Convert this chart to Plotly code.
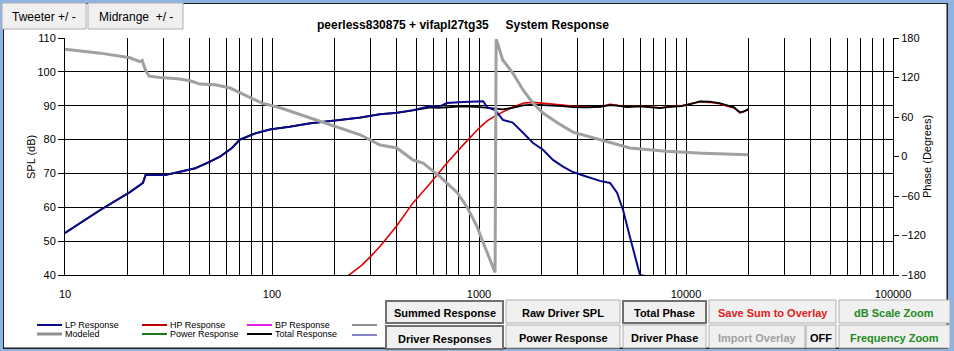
import plotly.graph_objects as go

# ---------------- data ----------------
lp_freq = [10, 14.8, 20.6, 23.8, 24.5, 30.4, 36, 42.5, 50.2, 56.2, 64, 70, 82.7, 97.8, 122, 153, 213, 267,
           333, 401, 480, 581, 634, 700, 838, 1012, 1048, 1094, 1195, 1305, 1455, 1632, 1824, 2038, 2277,
           2545, 2844, 3325, 3844, 4296, 4643, 4965, 5190, 5360, 5995, 6700]
lp_spl = [52.4, 59.2, 64.5, 67.2, 69.5, 69.5, 70.5, 71.5, 73.5, 75.0, 77.5, 80.0, 81.8, 83.0, 83.8, 84.8, 85.8, 86.5,
          87.5, 87.9, 88.7, 89.9, 89.6, 90.8, 91.1, 91.4, 91.3, 89.6, 88.7, 85.8, 85.0, 82.0, 79.0, 77.0, 74.0,
          72.0, 70.4, 69.0, 67.8, 67.2, 64.3, 59.2, 54.2, 51.2, 40.0, 39.4]

hp_freq = [230, 270, 300, 333, 400, 480, 580, 700, 850, 1012, 1100, 1222, 1455, 1650, 1824, 2038, 2277, 2545,
           2844, 3325, 3844, 4296, 4643, 5190, 5995, 6700, 7500, 8500, 9500, 10500, 11700, 13000, 14500, 16000,
           17000, 18240, 19000, 20000]
hp_spl = [39.5, 42.8, 45.5, 48.5, 54.5, 61.3, 67.0, 73.1, 78.8, 83.7, 85.6, 87.3, 89.6, 90.8, 91.0, 90.8, 90.6, 90.2,
          89.8, 89.6, 89.7, 90.4, 90.1, 89.7, 89.9, 89.6, 89.4, 89.8, 90.0, 90.6, 91.2, 91.0, 90.6, 89.8,
          89.4, 87.9, 88.2, 88.9]

total_freq = [10, 14.8, 20.6, 23.8, 24.5, 30.4, 36, 42.5, 50.2, 56.2, 64, 70, 82.7, 97.8, 122, 153, 213, 267,
              333, 401, 480, 581, 634, 700, 838, 1012, 1100, 1195, 1305, 1455, 1632, 1824, 2038, 2545, 2844, 3325,
              3844, 4296, 4643, 5190, 5995, 6700, 7500, 8500, 9500, 10500, 11700, 13000, 14500, 16000, 17000,
              18240, 19000, 20000]
total_spl = [52.4, 59.2, 64.5, 67.2, 69.5, 69.5, 70.5, 71.5, 73.5, 75.0, 77.5, 80.0, 81.8, 83.0, 83.8, 84.8, 85.8, 86.5,
             87.5, 87.9, 88.6, 89.5, 89.4, 89.6, 89.8, 89.6, 89.4, 89.2, 88.9, 89.4, 90.1, 90.3, 90.2, 89.9, 89.6, 89.5,
             89.7, 90.2, 90.0, 89.6, 89.8, 89.5, 89.3, 89.7, 89.9, 90.5, 91.3, 91.2, 90.8, 90.0, 89.6,
             88.0, 88.3, 89.0]

phase_freq = [10, 14.8, 20.6, 23.0, 23.6, 24.5, 25.5, 28.8, 35, 40.2, 44.9, 53.1, 62.8, 74.2, 89.5, 109.4, 136.7,
              190.9, 266.7, 333, 401, 480, 537, 650, 785, 876, 980, 1048, 1196, 1210, 1230, 1300, 1455, 1632,
              1824, 2038, 2400, 2844, 3400, 4296, 5360, 8000, 12000, 20000]
phase_deg = [163, 157, 150, 144, 146, 131, 122, 120, 118, 115, 110, 109, 104, 93, 81, 74, 64,
             48, 33, 17.4, 13, -5.4, -10, -31, -55, -77, -107, -131, -176, 178, 172, 147, 127, 101,
             81, 66, 51, 37, 30, 22, 13, 8, 5, 2.7]

x_tick_vals = [10, 100, 1000, 10000, 100000]
x_tick_text = ["10", "100", "1000", "10000", "100000"]
x_minor_vals = [m * d for d in (10, 100, 1000, 10000) for m in range(2, 10)]
spl_ticks = [40, 50, 60, 70, 80, 90, 100, 110]
phase_ticks = [-180, -120, -60, 0, 60, 120, 180]

# ---------------- layout geometry ----------------
W, H = 954, 351
L, R, T, B = 65, 61, 38, 76
PW, PH = W - L - R, H - T - B
FONT = "Liberation Sans, Arial, sans-serif"


def px(x):
    return (x - L) / PW


def py(y):
    return (H - B - y) / PH


fig = go.Figure()
fig.add_trace(go.Scatter(x=hp_freq, y=hp_spl, mode="lines", line=dict(color="#E00000", width=1.6),
                         name="HP Response", showlegend=False))
fig.add_trace(go.Scatter(x=total_freq, y=total_spl, mode="lines", line=dict(color="#000000", width=1.8),
                         name="Total Response", showlegend=False))
fig.add_trace(go.Scatter(x=lp_freq, y=lp_spl, mode="lines", line=dict(color="#0A0A8C", width=2),
                         name="LP Response", showlegend=False))
fig.add_trace(go.Scatter(x=phase_freq, y=phase_deg, mode="lines", yaxis="y2",
                         line=dict(color="#A0A0A0", width=3), name="Modeled", showlegend=False))

fig.update_layout(
    width=W, height=H, margin=dict(l=L, r=R, t=T, b=B),
    paper_bgcolor="white", plot_bgcolor="white",
    font=dict(family=FONT, size=11, color="black"),
    xaxis=dict(type="log", range=[1, 5], tickvals=x_tick_vals, ticktext=x_tick_text,
               showgrid=True, gridcolor="black", gridwidth=1, ticks="", zeroline=False,
               showline=True, linecolor="black", linewidth=1, mirror=False,
               tickfont=dict(size=11), ticklabelstandoff=9,
               minor=dict(tickvals=x_minor_vals, showgrid=True, gridcolor="black", gridwidth=1, ticks="")),
    yaxis=dict(range=[40, 110], tickvals=spl_ticks, showgrid=True, gridcolor="black", gridwidth=1,
               ticks="outside", ticklen=6, tickcolor="black", zeroline=False,
               showline=True, linecolor="black", linewidth=1),
    yaxis2=dict(range=[-180, 180], tickvals=phase_ticks, overlaying="y", side="right",
                showgrid=False, ticks="outside", ticklen=5, tickcolor="black", zeroline=False,
                showline=True, linecolor="black", linewidth=1),
)

shapes = []
annotations = []

# window frame
FRAME = "#8EB4E3"
DARK = "#202020"
for (x0, y0, x1, y1, c) in [(0, 0, 3, H, FRAME), (0, 0, W, 3, FRAME), (948, 0, W, H, FRAME),
                            (0, 349, W, H, FRAME), (3, 3, 4, 349, DARK), (3, 3, 948, 4, DARK),
                            (946.5, 3, 948, 349, DARK), (3, 347.5, 948, 349, DARK)]:
    shapes.append(dict(type="rect", xref="paper", yref="paper", x0=px(x0), x1=px(x1), y0=py(y1), y1=py(y0),
                       fillcolor=c, line=dict(width=0), layer="above"))


def text(x, y, s, size=11, color="black", xanchor="center", angle=0):
    annotations.append(dict(text=s, xref="paper", yref="paper", x=px(x), y=py(y), xanchor=xanchor,
                            yanchor="middle", showarrow=False, textangle=angle,
                            font=dict(size=size, color=color, family=FONT)))


# title and axis titles
text(463, 25, "<b>peerless830875 + vifapl27tg35     System Response</b>", size=12)
text(31, 157, "SPL (dB)", angle=-90)
text(927, 157, "Phase (Degrees)", angle=-90)


def button(x0, y0, x1, y1, label, color="black", sunken=False, bold=True, size=11):
    shapes.append(dict(type="rect", xref="paper", yref="paper", x0=px(x0), x1=px(x1), y0=py(y1), y1=py(y0),
                       fillcolor="#F0F0F0", line=dict(color="#707070" if sunken else "#ADADAD",
                                                      width=2 if sunken else 1), layer="above"))
    t = f"<b>{label}</b>" if bold else label
    text((x0 + x1) / 2, (y0 + y1) / 2 + 1, t, size=size, color=color)


button(2, 3, 86, 29, "Tweeter +/ -", bold=False, size=12)
button(88, 3, 183, 29, "Midrange  +/ -", bold=False, size=12)

GREEN = "#228B22"
button(386, 301, 503, 323, "Summed Response", sunken=True)
button(386, 326, 503, 349, "Driver Responses", sunken=True)
button(506, 300, 620, 323, "Raw Driver SPL")
button(506, 325, 620, 348, "Power Response")
button(623, 301, 706, 323, "Total Phase", sunken=True)
button(623, 325, 706, 348, "Driver Phase")
button(709, 300, 836, 323, "Save Sum to Overlay", color="#E02020")
button(709, 325, 805, 348, "Import Overlay", color="#A0A0A0")
button(806, 325, 836, 348, "OFF")
button(839, 300, 950, 323, "dB Scale Zoom", color=GREEN)
button(839, 325, 950, 348, "Frequency Zoom", color=GREEN)

# legend (bottom left)
legend_items = [
    (37, 325, "#0A0A8C", 2, "LP Response"),
    (142, 325, "#C00000", 2, "HP Response"),
    (247, 325, "#E020E0", 2, "BP Response"),
    (37, 334, "#909090", 3, "Modeled"),
    (142, 334, "#1A7A1A", 2, "Power Response"),
    (247, 334, "#000000", 2, "Total Response"),
    (352, 325, "#909090", 2, ""),
    (352, 335, "#0A0A8C", 1, ""),
]
for (x, y, c, w, txt) in legend_items:
    shapes.append(dict(type="line", xref="paper", yref="paper", x0=px(x), x1=px(x + 25), y0=py(y), y1=py(y),
                       line=dict(color=c, width=w)))
    if txt:
        text(x + 26, y, txt, size=9, xanchor="left")

fig.update_layout(shapes=shapes, annotations=annotations)
fig.write_html("out.html")
